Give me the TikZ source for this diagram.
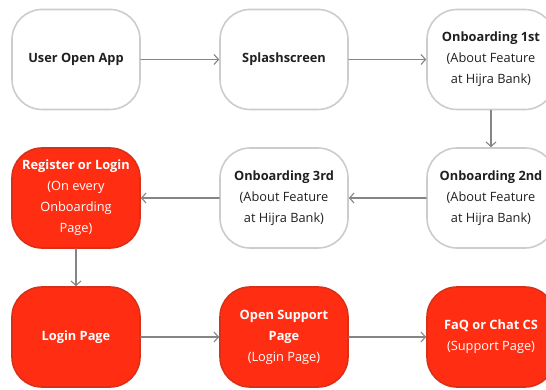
\documentclass[tikz,border=0pt]{standalone}
\usepackage{fontspec}
\setmainfont{Open Sans}
\usepackage{tikz}
\usetikzlibrary{positioning,arrows.meta}

\definecolor{flowRed}{HTML}{FF2E12}
\definecolor{flowRedEdge}{HTML}{D9301A}
\definecolor{flowGray}{HTML}{CCCCCC}
\definecolor{flowArrow}{HTML}{858585}
\definecolor{flowText}{HTML}{202020}

\begin{document}
\begin{tikzpicture}[
		x=1pt,
		y=-1pt,
		line cap=round,
		line join=round,
		>={Straight Barb[length=4.5pt,width=10pt]},
		screen/.style={
			rectangle,
			rounded corners=30pt,
			minimum width=128pt,
			minimum height=100pt,
			align=center,
			line width=1.6pt,
			font=\fontsize{12.8}{21}\selectfont
		},
		plain/.style={screen, draw=flowGray, fill=white, text=flowText},
		hot/.style={screen, draw=flowRedEdge, fill=flowRed, text=white},
		flow/.style={->, draw=flowArrow, line width=1.1pt}
		]
		
		\useasboundingbox (0,0) rectangle (546,390);
		
		%------------------------------------------------------------------
		% First row
		%------------------------------------------------------------------
		\node[plain] (userApp)  at ( 76, 59.5) {\textbf{User Open App}};
		\node[plain] (splash)   at (284, 59.5) {\textbf{Splashscreen}};
		\node[plain] (onbFirst) at (491, 59.5) {\textbf{Onboarding 1st}\\(About Feature\\at Hijra Bank)};
		
		%------------------------------------------------------------------
		% Second row (runs right to left)
		%------------------------------------------------------------------
		\node[plain] (onbSecond) at (491, 198) {\textbf{Onboarding 2nd}\\(About Feature\\at Hijra Bank)};
		\node[plain] (onbThird)  at (284, 198) {\textbf{Onboarding 3rd}\\(About Feature\\at Hijra Bank)};
		\node[hot]   (regLogin)  at ( 76, 198) {\textbf{Register or Login}\\(On every\\Onboarding\\Page)};
		
		%------------------------------------------------------------------
		% Third row
		%------------------------------------------------------------------
		\node[hot] (loginPage)   at ( 76, 337) {\textbf{Login Page}};
		\node[hot] (supportPage) at (284, 337) {\textbf{Open Support}\\\textbf{Page}\\(Login Page)};
		\node[hot] (faqChat)     at (491, 337) {\textbf{FaQ or Chat CS}\\(Support Page)};
		
		%------------------------------------------------------------------
		% Connectors
		%------------------------------------------------------------------
		\draw[flow] (userApp)  -- (splash);
		\draw[flow] (splash)   -- (onbFirst);
		\draw[flow] (onbFirst) -- (onbSecond);
		\draw[flow] (onbSecond) -- (onbThird);
		\draw[flow] (onbThird)  -- (regLogin);
		\draw[flow] (regLogin)  -- (loginPage);
		\draw[flow] (loginPage)   -- (supportPage);
		\draw[flow] (supportPage) -- (faqChat);
		
	\end{tikzpicture}
\end{document}
